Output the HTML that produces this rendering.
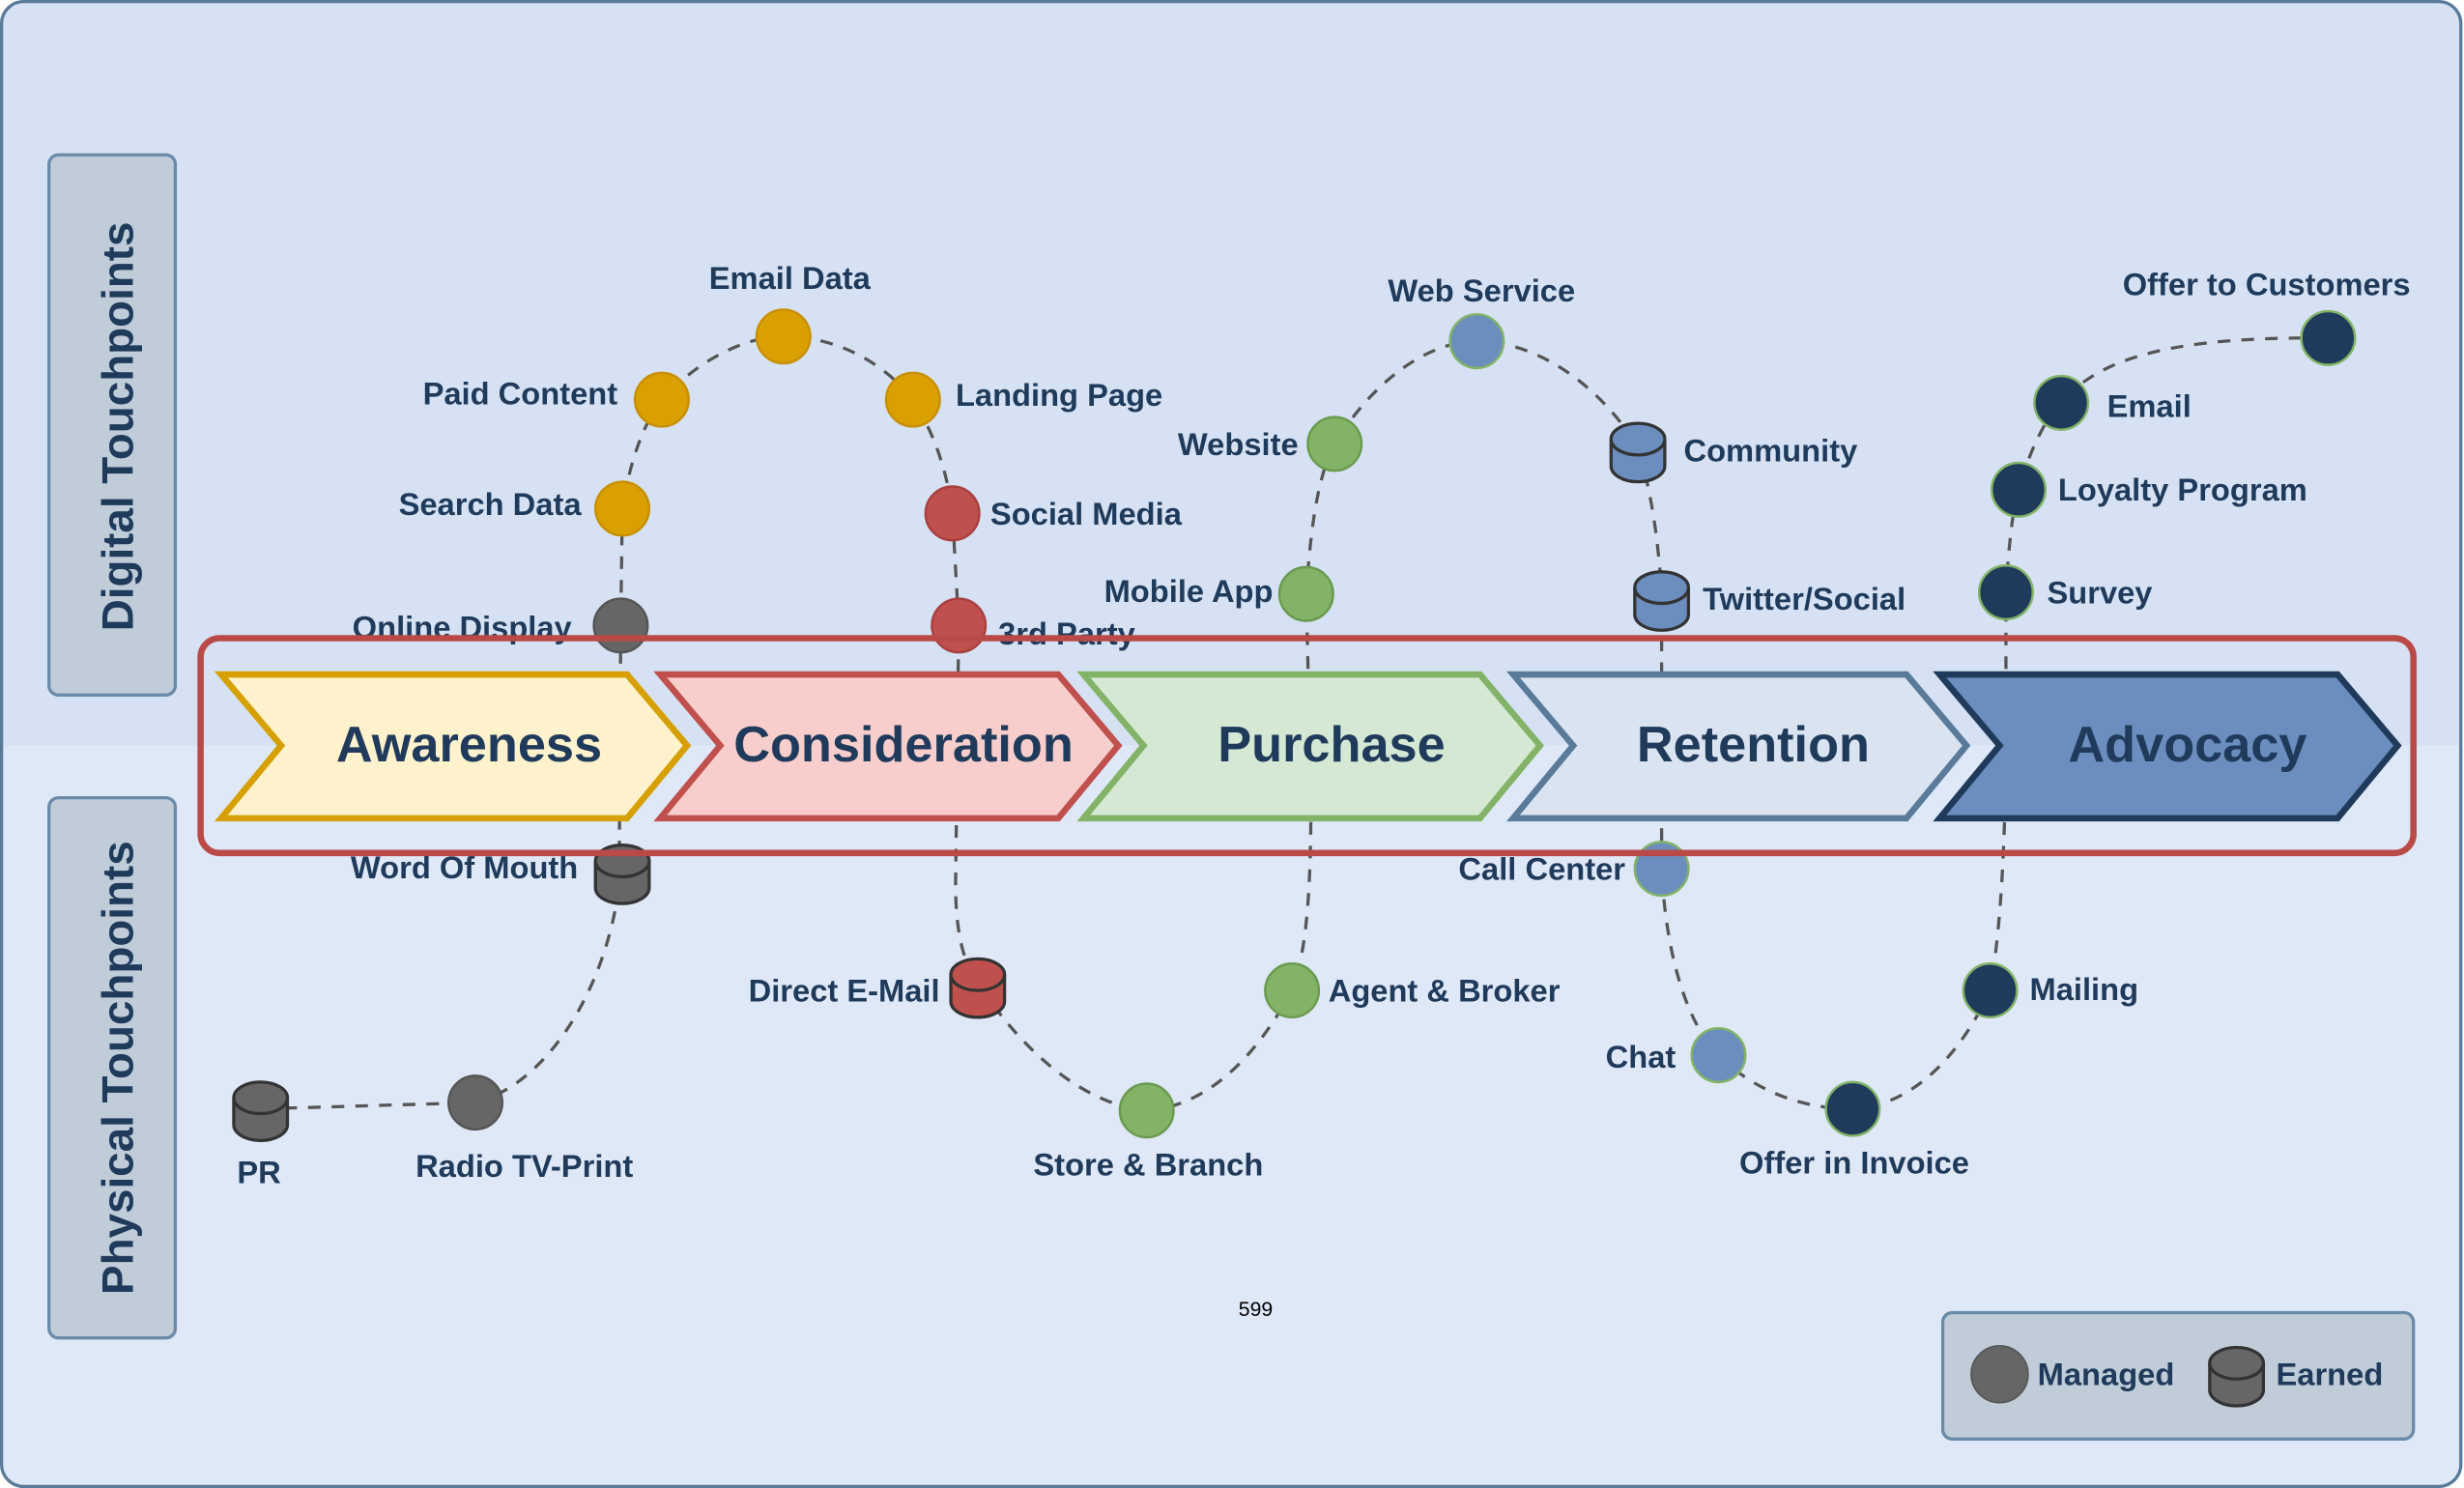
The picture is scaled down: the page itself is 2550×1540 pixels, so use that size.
<!DOCTYPE html>
<html><head><meta charset="utf-8"><style>
html,body{margin:0;padding:0;width:2550px;height:1540px;overflow:hidden;background:#fff}
svg{display:block}
text{font-family:"Liberation Sans",sans-serif;font-weight:bold;fill:#1f3a5a}
</style></head><body>
<svg width="2550" height="1540" viewBox="0 0 1560 942" preserveAspectRatio="none">
<defs>
<clipPath id="cp"><rect x="1" y="1" width="1557" height="940" rx="14"/></clipPath>
</defs>
<g clip-path="url(#cp)">
<rect x="0" y="0" width="1560" height="942" fill="#d6e2f3"/>
<rect x="0" y="472" width="1560" height="470" fill="#dfe8f7"/>
</g>
<rect x="1" y="1" width="1557" height="940" rx="14" fill="none" stroke="#5a7a9a" stroke-width="2"/>

<rect x="31" y="98" width="80" height="342" rx="6" fill="#c0ccd8" stroke="#6a8aa8" stroke-width="2"/>
<text transform="translate(84,270) rotate(-90)" text-anchor="middle" font-size="28">Digital Touchpoints</text>
<rect x="31" y="505" width="80" height="342" rx="6" fill="#c0ccd8" stroke="#6a8aa8" stroke-width="2"/>
<text transform="translate(84,676) rotate(-90)" text-anchor="middle" font-size="28">Physical Touchpoints</text>

<path d="M165,702 L301,698 C350,685 385,620 392,560 L393,396 L394,322 C400,285 410,265 419,253 C440,230 470,213 496,213 C530,213 560,230 578,253 C592,275 600,300 603,325 L607,396 L605,560 C605,590 610,610 619,622 C650,670 690,700 726,703 C770,700 800,660 818,627 C828,600 830,560 830,500 L827,376 C830,330 835,300 845,281 C870,240 905,216 935,216 C970,216 1010,240 1037,283 C1045,310 1050,340 1052,377 L1052,550 C1055,610 1070,650 1088,668 C1110,690 1140,702 1173,702 C1210,700 1240,670 1260,627 C1268,580 1270,520 1270,450 L1270,375 C1272,340 1275,320 1278,310 C1285,285 1295,265 1305,255 C1330,225 1380,213 1474,214" fill="none" stroke="#555" stroke-width="2" stroke-dasharray="8,7"/>

<g stroke-width="4" stroke-linejoin="miter">
<polygon points="140,427 397,427 435,472 397,518 140,518 178,472" fill="#fff2cc" stroke="#d6a000"/>
<polygon points="418,427 670,427 708,472 670,518 418,518 456,472" fill="#f8cecc" stroke="#c0504d"/>
<polygon points="686,427 937,427 975,472 937,518 686,518 724,472" fill="#d5e8d4" stroke="#82b366"/>
<polygon points="958,427 1207,427 1245,472 1207,518 958,518 996,472" fill="#dae3f0" stroke="#5a7a9a"/>
<polygon points="1228,427 1480,427 1518,472 1480,518 1228,518 1266,472" fill="#6c8ebf" stroke="#1f3a5a"/>
</g>
<g font-size="32" text-anchor="middle">
<text x="297" y="482">Awareness</text>
<text x="572" y="482">Consideration</text>
<text x="843" y="482">Purchase</text>
<text x="1110" y="482">Retention</text>
<text x="1385" y="482">Advocacy</text>
</g>

<g stroke-width="1.5">
<circle cx="496" cy="213" r="17" fill="#daa000" stroke="#c89000"/>
<circle cx="419" cy="253" r="17" fill="#daa000" stroke="#c89000"/>
<circle cx="578" cy="253" r="17" fill="#daa000" stroke="#c89000"/>
<circle cx="394" cy="322" r="17" fill="#daa000" stroke="#c89000"/>
<circle cx="393" cy="396" r="17" fill="#666" stroke="#555"/>
<circle cx="603" cy="325" r="17" fill="#c0504d" stroke="#a84040"/>
<circle cx="607" cy="396" r="17" fill="#c0504d" stroke="#a84040"/>
<circle cx="301" cy="698" r="17" fill="#666" stroke="#555"/>
<circle cx="726" cy="703" r="17" fill="#82b366" stroke="#6a9a50"/>
<circle cx="818" cy="627" r="17" fill="#82b366" stroke="#6a9a50"/>
<circle cx="827" cy="376" r="17" fill="#82b366" stroke="#6a9a50"/>
<circle cx="845" cy="281" r="17" fill="#82b366" stroke="#6a9a50"/>
<circle cx="935" cy="216" r="17" fill="#6c8ebf" stroke="#82b366"/>
<circle cx="1052" cy="550" r="17" fill="#6c8ebf" stroke="#82b366"/>
<circle cx="1088" cy="668" r="17" fill="#6c8ebf" stroke="#82b366"/>
<circle cx="1173" cy="702" r="17" fill="#1f3a5a" stroke="#82b366"/>
<circle cx="1260" cy="627" r="17" fill="#1f3a5a" stroke="#82b366"/>
<circle cx="1270" cy="375" r="17" fill="#1f3a5a" stroke="#82b366"/>
<circle cx="1278" cy="310" r="17" fill="#1f3a5a" stroke="#82b366"/>
<circle cx="1305" cy="255" r="17" fill="#1f3a5a" stroke="#82b366"/>
<circle cx="1474" cy="214" r="17" fill="#1f3a5a" stroke="#82b366"/>
<circle cx="1266" cy="870" r="18" fill="#666" stroke="#555"/>
</g>

<g stroke="#333" stroke-width="2">
<g fill="#666">
<path d="M377,545 L377,562 A17,10 0 0 0 411,562 L411,545"/><ellipse cx="394" cy="545" rx="17" ry="10"/>
<path d="M148,695 L148,712 A17,10 0 0 0 182,712 L182,695"/><ellipse cx="165" cy="695" rx="17" ry="10"/>
<path d="M1399,863 L1399,880 A17,10 0 0 0 1433,880 L1433,863"/><ellipse cx="1416" cy="863" rx="17" ry="10"/>
</g>
<g fill="#c0504d">
<path d="M602,617 L602,634 A17,10 0 0 0 636,634 L636,617"/><ellipse cx="619" cy="617" rx="17" ry="10"/>
</g>
<g fill="#6c8ebf">
<path d="M1020,278 L1020,295 A17,10 0 0 0 1054,295 L1054,278"/><ellipse cx="1037" cy="278" rx="17" ry="10"/>
<path d="M1035,372 L1035,389 A17,10 0 0 0 1069,389 L1069,372"/><ellipse cx="1052" cy="372" rx="17" ry="10"/>
</g>
</g>

<g font-size="20">
<text x="500" y="183" text-anchor="middle">Email Data</text>
<text x="391" y="256" text-anchor="end">Paid Content</text>
<text x="368" y="326" text-anchor="end">Search Data</text>
<text x="362" y="404" text-anchor="end">Online Display</text>
<text x="605" y="257">Landing Page</text>
<text x="627" y="332">Social Media</text>
<text x="632" y="408">3rd Party</text>
<text x="366" y="556" text-anchor="end">Word Of Mouth</text>
<text x="595" y="634" text-anchor="end">Direct E-Mail</text>
<text x="727" y="744" text-anchor="middle">Store &amp; Branch</text>
<text x="841" y="634">Agent &amp; Broker</text>
<text x="164" y="749" text-anchor="middle">PR</text>
<text x="332" y="745" text-anchor="middle">Radio TV-Print</text>
<text x="806" y="381" text-anchor="end">Mobile App</text>
<text x="822" y="288" text-anchor="end">Website</text>
<text x="938" y="191" text-anchor="middle">Web Service</text>
<text x="1066" y="292">Community</text>
<text x="1078" y="386">Twitter/Social</text>
<text x="1029" y="557" text-anchor="end">Call Center</text>
<text x="1061" y="676" text-anchor="end">Chat</text>
<text x="1174" y="743" text-anchor="middle">Offer in Invoice</text>
<text x="1285" y="633">Mailing</text>
<text x="1296" y="382">Survey</text>
<text x="1303" y="317">Loyalty Program</text>
<text x="1334" y="264">Email</text>
<text x="1435" y="187" text-anchor="middle">Offer to Customers</text>
</g>

<rect x="127" y="404" width="1401" height="136" rx="12" fill="none" stroke="#b94a48" stroke-width="4"/>

<text x="795" y="833" text-anchor="middle" font-size="13" font-weight="normal" style="fill:#000;font-weight:normal">599</text>

<rect x="1230" y="831" width="298" height="80" rx="6" fill="#c0ccd8" stroke="#6a8aa8" stroke-width="2"/>
<circle cx="1266" cy="870" r="18" fill="#666" stroke="#555"/>
<g stroke="#333" stroke-width="2" fill="#666">
<path d="M1399,863 L1399,880 A17,10 0 0 0 1433,880 L1433,863"/><ellipse cx="1416" cy="863" rx="17" ry="10"/>
</g>
<text x="1290" y="877" font-size="20">Managed</text>
<text x="1441" y="877" font-size="20">Earned</text>
</svg>
</body></html>
